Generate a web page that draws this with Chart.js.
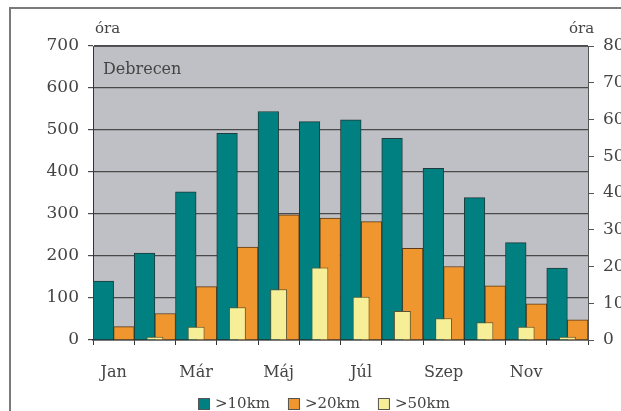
<!DOCTYPE html>
<html>
<head>
<meta charset="utf-8">
<script src="https://cdn.jsdelivr.net/npm/chart.js@4/dist/chart.umd.min.js"></script>
<style>
  html, body { margin: 0; padding: 0; background: #fff; }
  #wrap { width: 621px; height: 411px; }
</style>
</head>
<body>
<div id="wrap"><canvas id="chart" width="621" height="411"></canvas></div>
<script>
const months = ['Jan', 'Feb', 'Már', 'Ápr', 'Máj', 'Jún', 'Júl', 'Aug', 'Szep', 'Okt', 'Nov', 'Dec'];
const over10km = [140, 207, 353, 492, 544, 520, 524, 480, 409, 339, 232, 171];
const over20km = [32, 63, 127, 221, 298, 290, 282, 218, 175, 129, 86, 48];
const over50km = [0, 0.9, 3.6, 8.9, 13.8, 19.7, 11.8, 7.9, 5.9, 4.8, 3.6, 0.9];
const seriesNames = ['>10km', '>20km', '>50km'];
const seriesColors = ['#008080', '#F0962F', '#F6EF98'];

const FONT = 'DejaVu Serif';
const TEXT = '#444444';

const decor = {
  id: 'decor',
  beforeDraw(chart) {
    const { ctx, chartArea: a } = chart;
    ctx.save();
    ctx.fillStyle = '#BFC0C5';
    ctx.fillRect(a.left, a.top, a.right - a.left, a.bottom - a.top);
    ctx.restore();
  },
  afterDraw(chart) {
    const { ctx, chartArea: a } = chart;
    ctx.save();
    // outer frame
    ctx.strokeStyle = '#7a7a7a';
    ctx.lineWidth = 2;
    ctx.strokeRect(10, 8, 640, 420);
    // plot border top
    ctx.strokeStyle = '#555';
    ctx.lineWidth = 1;
    ctx.beginPath();
    ctx.moveTo(a.left, a.top + 0.5);
    ctx.lineTo(a.right, a.top + 0.5);
    ctx.stroke();

    ctx.fillStyle = TEXT;
    ctx.font = '15px "' + FONT + '"';
    ctx.textBaseline = 'middle';
    ctx.textAlign = 'left';
    ctx.fillText('óra', 95, 29);
    ctx.fillText('óra', 569, 29);
    ctx.font = '16px "' + FONT + '"';
    ctx.fillText('Debrecen', 103, 70);

    // legend
    let x = 198;
    const y = 404;
    ctx.font = '15px "' + FONT + '"';
    seriesNames.forEach((name, i) => {
      ctx.fillStyle = seriesColors[i];
      ctx.fillRect(x, y - 6, 12, 12);
      ctx.strokeStyle = '#555';
      ctx.lineWidth = 1;
      ctx.strokeRect(x + 0.5, y - 5.5, 11, 11);
      ctx.fillStyle = TEXT;
      ctx.fillText(name, x + 17, y);
      x += 17 + ctx.measureText(name).width + 18;
    });
    ctx.restore();
  }
};

new Chart(document.getElementById('chart').getContext('2d'), {
  type: 'bar',
  data: {
    labels: months,
    datasets: [
      {
        label: seriesNames[0],
        data: over10km,
        backgroundColor: seriesColors[0],
        borderColor: '#1f3b3b',
        borderWidth: 1,
        yAxisID: 'y',
        barPercentage: 1,
        categoryPercentage: 1,
      },
      {
        label: seriesNames[1],
        data: over20km,
        backgroundColor: seriesColors[1],
        borderColor: '#5a3a18',
        borderWidth: 1,
        yAxisID: 'y',
        barPercentage: 1,
        categoryPercentage: 1,
      },
      {
        label: seriesNames[2],
        data: over50km,
        backgroundColor: seriesColors[2],
        borderColor: '#5a5530',
        borderWidth: 1,
        yAxisID: 'y2',
        grouped: false,
        barPercentage: 0.41,
        categoryPercentage: 1,
        order: -1,
      },
    ],
  },
  options: {
    animation: false,
    responsive: false,
    maintainAspectRatio: false,
    layout: { padding: { top: 46, left: 0, right: 0, bottom: 0 } },
    plugins: {
      legend: { display: false },
      tooltip: { enabled: false },
    },
    scales: {
      x: {
        type: 'category',
        offset: true,
        afterFit: (s) => { s.height = 71; },
        grid: {
          offset: true,
          drawOnChartArea: false,
          color: '#333',
          tickLength: 5,
          tickWidth: 1,
        },
        border: { color: '#222', width: 1.5 },
        ticks: {
          autoSkip: false,
          maxRotation: 0,
          padding: 18,
          color: TEXT,
          font: { family: FONT, size: 16 },
          callback: function (v, i) { return i % 2 === 0 ? this.getLabelForValue(v) : ''; },
        },
      },
      y: {
        position: 'left',
        min: 0,
        max: 700,
        afterFit: (s) => { s.width = 93; },
        ticks: {
          stepSize: 100,
          padding: 9,
          color: TEXT,
          font: { family: FONT, size: 17 },
        },
        grid: {
          color: '#4a4a4a',
          lineWidth: 1.2,
          tickLength: 5,
        },
        border: { color: '#333', width: 1 },
      },
      y2: {
        position: 'right',
        min: 0,
        max: 80,
        afterFit: (s) => { s.width = 33; },
        ticks: {
          stepSize: 10,
          padding: 9,
          color: TEXT,
          font: { family: FONT, size: 17 },
        },
        grid: {
          drawOnChartArea: false,
          color: '#555',
          tickLength: 6,
        },
        border: { color: '#555', width: 1 },
      },
    },
  },
  plugins: [decor],
});
</script>
</body>
</html>
